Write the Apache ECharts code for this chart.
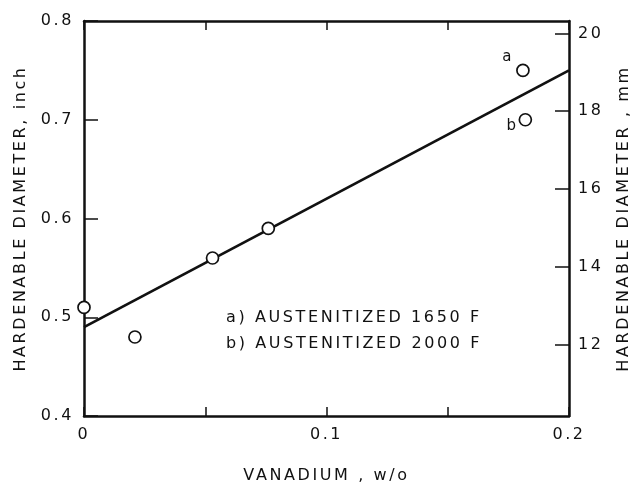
<!DOCTYPE html>
<html>
<head>
<meta charset="utf-8">
<script src="https://cdn.jsdelivr.net/npm/echarts@6/dist/echarts.min.js"></script>
<style>
html,body{margin:0;padding:0;background:#fff;}
#chart{width:637px;height:483px;}
</style>
</head>
<body>
<div id="chart"></div>
<script>
// Data
var vanadium = [0, 0.021, 0.053, 0.076, 0.181, 0.182];
var diameterInch = [0.51, 0.48, 0.56, 0.59, 0.75, 0.70];
var pointLabels = ['', '', '', '', 'a', 'b'];
var fitX = [0, 0.2];
var fitY = [0.49, 0.75];
var xTickLabels = [0, 0.1, 0.2];
var leftTicks = [0.4, 0.5, 0.6, 0.7, 0.8];
var rightTicksMm = [12, 14, 16, 18, 20];
var notes = ['a) AUSTENITIZED 1650 F', 'b) AUSTENITIZED 2000 F'];

// widen letter spacing of canvas text (the reference lettering is widely spaced)
(function () {
  var P = window.CanvasRenderingContext2D && CanvasRenderingContext2D.prototype;
  if (!P || !('letterSpacing' in P)) return;
  var ft = P.fillText, st = P.strokeText, mt = P.measureText;
  P.fillText = function () { this.letterSpacing = '2.6px'; return ft.apply(this, arguments); };
  P.strokeText = function () { this.letterSpacing = '2.6px'; return st.apply(this, arguments); };
  P.measureText = function () { this.letterSpacing = '2.6px'; return mt.apply(this, arguments); };
})();

var FONT = 'DejaVu Sans';
var chart = echarts.init(document.getElementById('chart'));

var scatterData = vanadium.map(function (v, i) {
  var d = { value: [v, diameterInch[i]], name: pointLabels[i] };
  if (pointLabels[i] === 'a') {
    d.label = { show: true, position: 'left', offset: [3, -13] };
  } else if (pointLabels[i] === 'b') {
    d.label = { show: true, position: 'left', offset: [5, 6] };
  }
  return d;
});

function isIn(list, v) {
  for (var i = 0; i < list.length; i++) if (Math.abs(list[i] - v) < 1e-6) return true;
  return false;
}

var lineStyleAxis = { color: '#111', width: 2.5 };

var option = {
  animation: false,
  backgroundColor: '#fff',
  grid: { left: 84, right: 68, top: 21, bottom: 67, outerBoundsMode: 'none', containLabel: false },
  xAxis: [{
    type: 'value', position: 'bottom', min: 0, max: 0.2, interval: 0.05,
    name: 'VANADIUM , w/o', nameLocation: 'middle', nameGap: 51,
    nameTextStyle: { fontFamily: FONT, fontSize: 16, color: '#111' },
    axisLine: { show: true, onZero: false, lineStyle: lineStyleAxis },
    axisTick: { show: true, inside: true, length: 9, lineStyle: { color: '#111', width: 1.5 } },
    axisLabel: {
      margin: 10, fontFamily: FONT, fontSize: 16, color: '#111',
      formatter: function (v) {
        if (!isIn(xTickLabels, v)) return '';
        return v === 0 ? '0' : v.toFixed(1);
      }
    },
    splitLine: { show: false }
  }, {
    type: 'value', position: 'top', min: 0, max: 0.2, interval: 0.05,
    axisLine: { show: true, onZero: false, lineStyle: lineStyleAxis },
    axisTick: { show: true, inside: true, length: 9, lineStyle: { color: '#111', width: 1.5 } },
    axisLabel: { show: false },
    splitLine: { show: false }
  }],
  yAxis: [{
    type: 'value', position: 'left', min: leftTicks[0], max: leftTicks[leftTicks.length - 1], interval: 0.1,
    name: 'HARDENABLE DIAMETER, inch', nameLocation: 'middle', nameGap: 54,
    nameTextStyle: { fontFamily: FONT, fontSize: 16, color: '#111' },
    axisLine: { show: true, onZero: false, lineStyle: lineStyleAxis },
    axisTick: { show: true, inside: true, length: 14, lineStyle: { color: '#111', width: 1.5 } },
    axisLabel: {
      margin: 10, fontFamily: FONT, fontSize: 16, color: '#111',
      formatter: function (v) { return v.toFixed(1); }
    },
    splitLine: { show: false }
  }, {
    type: 'value', position: 'right', min: leftTicks[0] * 25.4, max: leftTicks[leftTicks.length - 1] * 25.4,
    splitNumber: 5,
    name: 'HARDENABLE DIAMETER , mm', nameLocation: 'middle', nameGap: 45,
    nameRotate: 90,
    nameTextStyle: { fontFamily: FONT, fontSize: 16, color: '#111' },
    axisLine: { show: true, onZero: false, lineStyle: lineStyleAxis },
    axisTick: { show: true, inside: true, length: 14, lineStyle: { color: '#111', width: 1.5 } },
    axisLabel: {
      margin: 9, fontFamily: FONT, fontSize: 16, color: '#111',
      showMinLabel: false, showMaxLabel: false,
      formatter: function (v) { return isIn(rightTicksMm, v) ? String(Math.round(v)) : ''; }
    },
    splitLine: { show: false }
  }],
  graphic: notes.map(function (t, i) {
    return {
      type: 'text', left: 226, top: 309 + i * 26, z: 100,
      style: { text: t, font: '16px "DejaVu Sans"', fill: '#111' }
    };
  }),
  series: [{
    type: 'line', xAxisIndex: 0, yAxisIndex: 0,
    data: fitX.map(function (x, i) { return [x, fitY[i]]; }),
    symbol: 'none', lineStyle: { color: '#111', width: 2.8 }, z: 2, silent: true
  }, {
    type: 'scatter', xAxisIndex: 0, yAxisIndex: 0,
    data: scatterData, symbol: 'circle', symbolSize: 12,
    itemStyle: { color: '#fff', borderColor: '#111', borderWidth: 1.7, opacity: 1 },
    label: {
      show: false, formatter: '{b}', fontFamily: FONT, fontSize: 15, color: '#111'
    },
    z: 5
  }]
};
chart.setOption(option);
</script>
</body>
</html>
